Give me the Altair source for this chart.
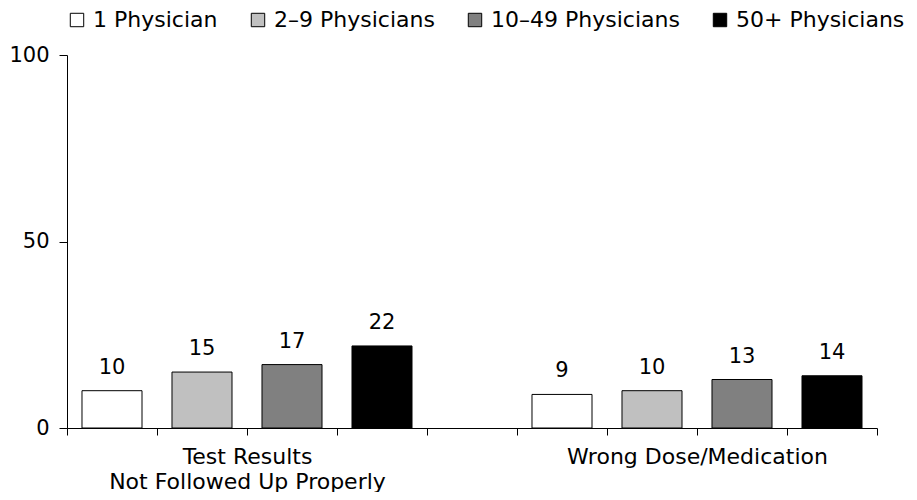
import json
import altair as alt
import pandas as pd

groups = ["Test Results", "Wrong Dose/Medication"]
group_label_lines = [["Test Results", "Not Followed Up Properly"], ["Wrong Dose/Medication"]]
sizes = ["1 Physician", "2–9 Physicians", "10–49 Physicians", "50+ Physicians"]
values_test = [10, 15, 17, 22]
values_wrong = [9, 10, 13, 14]
fills = ["white", "#c0c0c0", "#808080", "black"]
y_ticks = [0, 50, 100]

series = [values_test, values_wrong]
rows = []
slot_order = []
for gi, g in enumerate(groups):
    for si, s in enumerate(sizes):
        slot = f"{g}|{s}"
        slot_order.append(slot)
        rows.append({"slot": slot, "group": g, "size": s, "value": series[gi][si]})
    if gi < len(groups) - 1:
        slot_order.append("gap")
df = pd.DataFrame(rows)

# label each group under its second slot, shifted half a band to the group centre
expr_parts = []
for g, lines in zip(groups, group_label_lines):
    key = json.dumps(f"{g}|{sizes[1]}", ensure_ascii=False)
    lab = json.dumps(lines if len(lines) > 1 else lines[0], ensure_ascii=False)
    expr_parts.append(f"datum.value == {key} ? {lab} : ")
label_expr = "".join(expr_parts) + "''"

W, H = 810, 373
band = W / len(slot_order)

x = alt.X(
    "slot:N",
    scale=alt.Scale(domain=slot_order, paddingInner=0, paddingOuter=0),
    sort=slot_order,
    axis=alt.Axis(
        title=None,
        tickBand="extent",
        tickSize=7,
        labelExpr=label_expr,
        labelOffset=band / 2,
        labelPadding=11,
        labelFontSize=22,
        labelLineHeight=25,
        labelBaseline="top",
        labelAngle=0,
        labelOverlap=False,
        labelLimit=0,
        labelColor="black",
        domainColor="black",
        tickColor="black",
    ),
)
y = alt.Y(
    "value:Q",
    scale=alt.Scale(domain=[0, 100], nice=False),
    axis=alt.Axis(
        title=None,
        values=y_ticks,
        grid=False,
        tickSize=8,
        labelPadding=10,
        labelFontSize=21,
        labelColor="black",
        domainColor="black",
        tickColor="black",
    ),
)

bars = alt.Chart(df).mark_bar(
    width={"band": 0.667}, stroke="black", strokeWidth=1
).encode(
    x=x,
    y=y,
    fill=alt.Fill(
        "size:N",
        scale=alt.Scale(domain=sizes, range=fills),
        legend=alt.Legend(
            title=None,
            orient="none",
            legendX=-1,
            legendY=-46,
            direction="horizontal",
            symbolType="square",
            symbolSize=180,
            symbolStrokeColor="black",
            symbolStrokeWidth=1,
            labelFontSize=22,
            labelLimit=0,
            labelColor="black",
            labelOffset=5,
            columnPadding=29,
            padding=0,
        ),
    ),
)

labels = alt.Chart(df).mark_text(
    baseline="bottom", dy=-13, fontSize=21, color="black"
).encode(x=x, y=y, text="value:Q")

chart = (
    (bars + labels)
    .properties(
        width=W,
        height=H,
        autosize=alt.AutoSizeParams(type="none"),
        padding={"left": 59, "top": 47, "right": 32, "bottom": 64},
    )
    .configure(font="DejaVu Sans")
    .configure_view(stroke=None)
)

chart.save("out.html", embed_options={"renderer": "svg", "actions": False})
